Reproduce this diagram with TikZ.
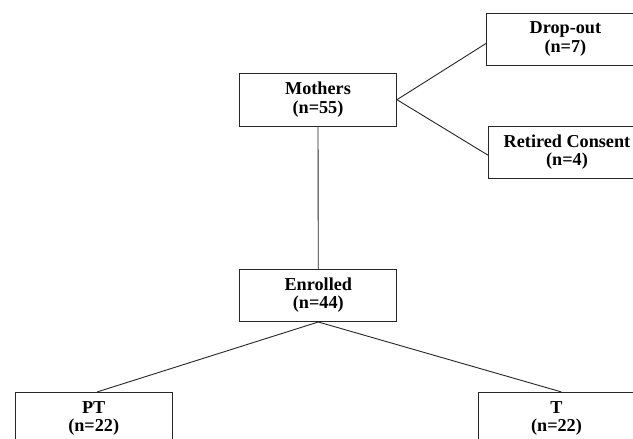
\documentclass[tikz,border=0pt]{standalone}
\usepackage{fontspec}
\setmainfont{Liberation Serif}
\begin{document}
\begin{tikzpicture}[x=1pt,y=-1pt,
  box/.style={draw=black!85, line width=0.9pt, fill=white, inner sep=0pt,
    minimum width=157pt, minimum height=52.5pt, align=center,
    font=\fontsize{18.2}{18.6}\selectfont\bfseries},
  conn/.style={draw=black!85, line width=0.9pt}]
\useasboundingbox (0,0) rectangle (633,439);
\clip (0,0) rectangle (633,439);
\fill[white] (0,0) rectangle (633,439);
\node[box] (mothers) at (318,99.7) {Mothers\\(n=55)};
\node[box] (drop) at (565.4,39.2) {Drop-out\\(n=7)};
\node[box] (retired) at (567,152.2) {Retired Consent\\(n=4)};
\node[box] (enrolled) at (318.3,295.3) {Enrolled\\(n=44)};
\node[box] (pt) at (93.7,418.6) {PT\\(n=22)};
\node[box] (t) at (556.5,418.6) {T\\(n=22)};
\draw[conn] (mothers.east) -- ([yshift=-4pt]drop.west);
\draw[conn] (mothers.east) -- ([yshift=-3pt]retired.west);
\draw[conn] (mothers.south) -- (enrolled.north);
\draw[conn] (enrolled.south) -- ([xshift=3.5pt]pt.north);
\draw[conn] (enrolled.south) -- ([xshift=4.8pt]t.north);
\end{tikzpicture}
\end{document}
